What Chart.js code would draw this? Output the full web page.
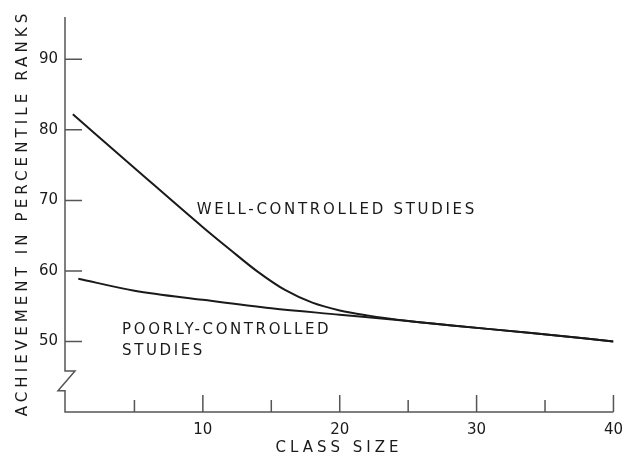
<!DOCTYPE html>
<html>
<head>
<meta charset="utf-8">
<script src="https://cdn.jsdelivr.net/npm/chart.js@4.4.1/dist/chart.umd.min.js"></script>
<style>
  html, body { margin: 0; padding: 0; background: #fff; }
  #wrap { width: 632px; height: 456px; }
</style>
</head>
<body>
<div id="wrap"><canvas id="myChart"></canvas></div>
<script>
const wellSize = [0.5, 5, 10, 12, 14, 16, 18, 20, 22, 25, 28, 34, 40];
const wellRank = [82.2, 74.6, 66.2, 63.0, 59.9, 57.3, 55.5, 54.4, 53.7, 52.9, 52.3, 51.2, 50.0];

const poorSize = [0.9, 5, 10, 15, 20, 25, 28, 34, 40];
const poorRank = [58.9, 57.2, 55.9, 54.7, 53.8, 52.9, 52.3, 51.2, 50.0];

const xTicks = [10, 20, 30, 40];
const xMinorTicks = [5, 15, 25, 35];
const yTicks = [50, 60, 70, 80, 90];

const ink = "#1a1a1a";
const axisInk = "#555";
const letterFont = '15px "DejaVu Sans"';

function pts(xs, ys) {
  return xs.map((x, i) => ({ x: x, y: ys[i] }));
}

function spacedText(c, text, x, y, spacing, align) {
  c.save();
  c.font = letterFont;
  c.fillStyle = ink;
  c.letterSpacing = spacing + "px";
  c.textBaseline = "middle";
  c.textAlign = align || "left";
  c.fillText(text, x, y);
  c.restore();
}

// axes drawn by hand: ticks point inward and the y axis has a break
const axesPlugin = {
  id: "axes",
  afterDraw(chart) {
    const c = chart.ctx;
    const xs = chart.scales.x;
    const ys = chart.scales.y;
    const left = xs.getPixelForValue(0) - 1;
    const bottom = ys.getPixelForValue(40);
    const right = xs.getPixelForValue(40);
    const top = ys.getPixelForValue(96);
    const b1 = ys.getPixelForValue(45.8);
    const b2 = ys.getPixelForValue(43);

    c.save();
    c.strokeStyle = axisInk;
    c.lineWidth = 1.5;
    c.beginPath();
    c.moveTo(left, top);
    c.lineTo(left, b1);
    c.lineTo(left + 10, b1);
    c.lineTo(left - 7, b2);
    c.lineTo(left, b2);
    c.lineTo(left, bottom);
    c.lineTo(right, bottom);
    yTicks.forEach((v) => {
      const p = ys.getPixelForValue(v);
      c.moveTo(left, p);
      c.lineTo(left + 17, p);
    });
    xTicks.forEach((v) => {
      const p = xs.getPixelForValue(v);
      c.moveTo(p, bottom);
      c.lineTo(p, bottom - 17);
    });
    xMinorTicks.forEach((v) => {
      const p = xs.getPixelForValue(v);
      c.moveTo(p, bottom);
      c.lineTo(p, bottom - 12);
    });
    c.stroke();
    c.restore();

    // axis titles
    c.save();
    c.translate(23, 213);
    c.rotate(-Math.PI / 2);
    spacedText(c, "ACHIEVEMENT IN PERCENTILE RANKS", 0, 0, 4.1, "center");
    c.restore();
    spacedText(c, "CLASS SIZE", 339, 448, 4, "center");

    // curve labels
    spacedText(c, "WELL-CONTROLLED STUDIES", xs.getPixelForValue(9.55), ys.getPixelForValue(68.6), 2.7);
    spacedText(c, "POORLY-CONTROLLED", xs.getPixelForValue(4.1), ys.getPixelForValue(51.6), 2.6);
    spacedText(c, "STUDIES", xs.getPixelForValue(4.1), ys.getPixelForValue(48.7), 2.6);
  },
};

const ctx = document.getElementById("myChart");

new Chart(ctx, {
  type: "scatter",
  data: {
    datasets: [
      {
        label: "Well-controlled studies",
        data: pts(wellSize, wellRank),
        showLine: true,
        borderColor: ink,
        borderWidth: 2,
        pointRadius: 0,
        cubicInterpolationMode: "monotone",
      },
      {
        label: "Poorly-controlled studies",
        data: pts(poorSize, poorRank),
        showLine: true,
        borderColor: ink,
        borderWidth: 2,
        pointRadius: 0,
        cubicInterpolationMode: "monotone",
      },
    ],
  },
  options: {
    responsive: true,
    maintainAspectRatio: false,
    animation: false,
    layout: { padding: { left: 0, right: 13, top: 15, bottom: 0 } },
    plugins: {
      legend: { display: false },
      tooltip: { enabled: false },
    },
    scales: {
      x: {
        type: "linear",
        min: 0,
        max: 40,
        grid: { display: false, drawTicks: false },
        border: { display: false },
        afterBuildTicks: (s) => { s.ticks = xTicks.map((v) => ({ value: v })); },
        afterFit: (s) => { s.height = 44; },
        ticks: { color: ink, font: { family: "DejaVu Sans", size: 15 }, padding: 9, maxRotation: 0 },
      },
      y: {
        min: 40,
        max: 96,
        grid: { display: false, drawTicks: false },
        border: { display: false },
        afterBuildTicks: (s) => { s.ticks = yTicks.map((v) => ({ value: v })); },
        afterFit: (s) => { s.width = 66; },
        ticks: { color: ink, font: { family: "DejaVu Sans", size: 15 }, padding: 8 },
      },
    },
  },
  plugins: [axesPlugin],
});
</script>
</body>
</html>
